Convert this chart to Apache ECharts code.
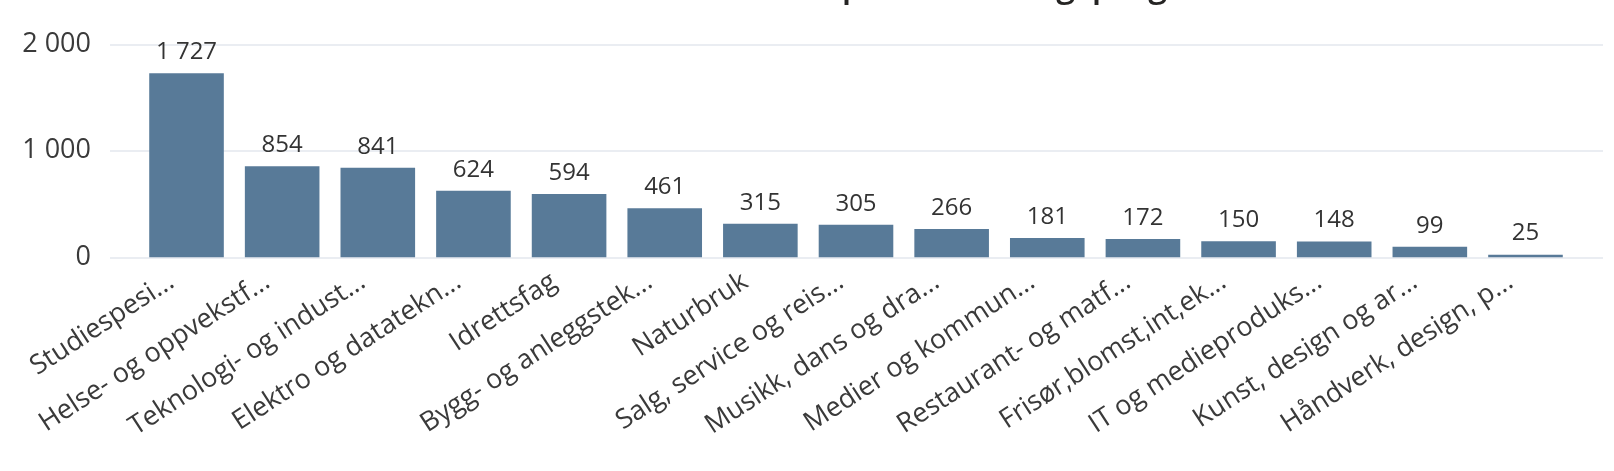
<!DOCTYPE html>
<html>
<head>
<meta charset="utf-8">
<script src="https://cdn.jsdelivr.net/npm/echarts@6/dist/echarts.min.js"></script>
<style>
html,body{margin:0;padding:0;background:#fff;}
#chart{width:1614px;height:471px;}
</style>
</head>
<body>
<div id="chart"></div>
<script>
const titleText = "Antall førsteønsker per utdanningsprogram";
const categories = [
  "Studiespesi...", "Helse- og oppvekstf...", "Teknologi- og indust...",
  "Elektro og datatekn...", "Idrettsfag", "Bygg- og anleggstek...",
  "Naturbruk", "Salg, service og reis...", "Musikk, dans og dra...",
  "Medier og kommun...", "Restaurant- og matf...", "Frisør,blomst,int,ek...",
  "IT og medieproduks...", "Kunst, design og ar...", "Håndverk, design, p..."
];
const values = [1727, 854, 841, 624, 594, 461, 315, 305, 266, 181, 172, 150, 148, 99, 25];
const yTicks = [0, 1000, 2000];

const fmt = v => String(v).replace(/\B(?=(\d{3})+(?!\d))/g, ' ');
const FONT = "'Open Sans', 'Noto Sans', sans-serif";
const TOP = 44.3, BOTTOM = 471 - 257.3;

const chart = echarts.init(document.getElementById('chart'), null, {renderer: 'canvas'});
chart.setOption({
  animation: false,
  backgroundColor: '#ffffff',
  graphic: [{
    type: 'text',
    x: 1234, y: 4,
    style: {
      text: titleText,
      font: "600 34px 'Open Sans', sans-serif",
      fill: '#252423',
      align: 'right',
      verticalAlign: 'bottom'
    }
  }],
  grid: [
    {left: 110, right: 11, top: TOP, bottom: BOTTOM},
    {left: 138.7, right: 40.7, top: TOP, bottom: BOTTOM},
    {left: 123.7, right: 55.7, top: TOP, bottom: BOTTOM}
  ],
  xAxis: [
    {gridIndex: 0, type: 'category', data: categories, show: false},
    {gridIndex: 1, type: 'category', data: categories,
     axisLine: {show: false}, axisTick: {show: false}, axisLabel: {show: false}},
    {gridIndex: 2, type: 'category', data: categories,
     axisLine: {show: false}, axisTick: {show: false},
     axisLabel: {interval: 0, rotate: 33, margin: 22, fontSize: 27,
                 fontFamily: FONT, color: '#3a3a3a'}}
  ],
  yAxis: [
    {gridIndex: 0, type: 'value', min: yTicks[0], max: yTicks[yTicks.length - 1], interval: 1000,
     axisLine: {show: false}, axisTick: {show: false},
     axisLabel: {margin: 19, fontSize: 27, fontFamily: FONT, color: '#3a3a3a', formatter: fmt},
     splitLine: {lineStyle: {color: '#e3e7ee', width: 1.5}}},
    {gridIndex: 1, type: 'value', min: 0, max: 2000, interval: 1000, show: false},
    {gridIndex: 2, type: 'value', min: 0, max: 2000, interval: 1000, show: false}
  ],
  series: [{
    type: 'bar',
    xAxisIndex: 1, yAxisIndex: 1,
    data: values,
    barCategoryGap: '22%',
    itemStyle: {color: '#587a98'},
    label: {show: true, position: 'top', distance: 9, fontSize: 24,
            fontFamily: FONT, color: '#333333', formatter: p => fmt(p.value)}
  }]
});
</script>
</body>
</html>
